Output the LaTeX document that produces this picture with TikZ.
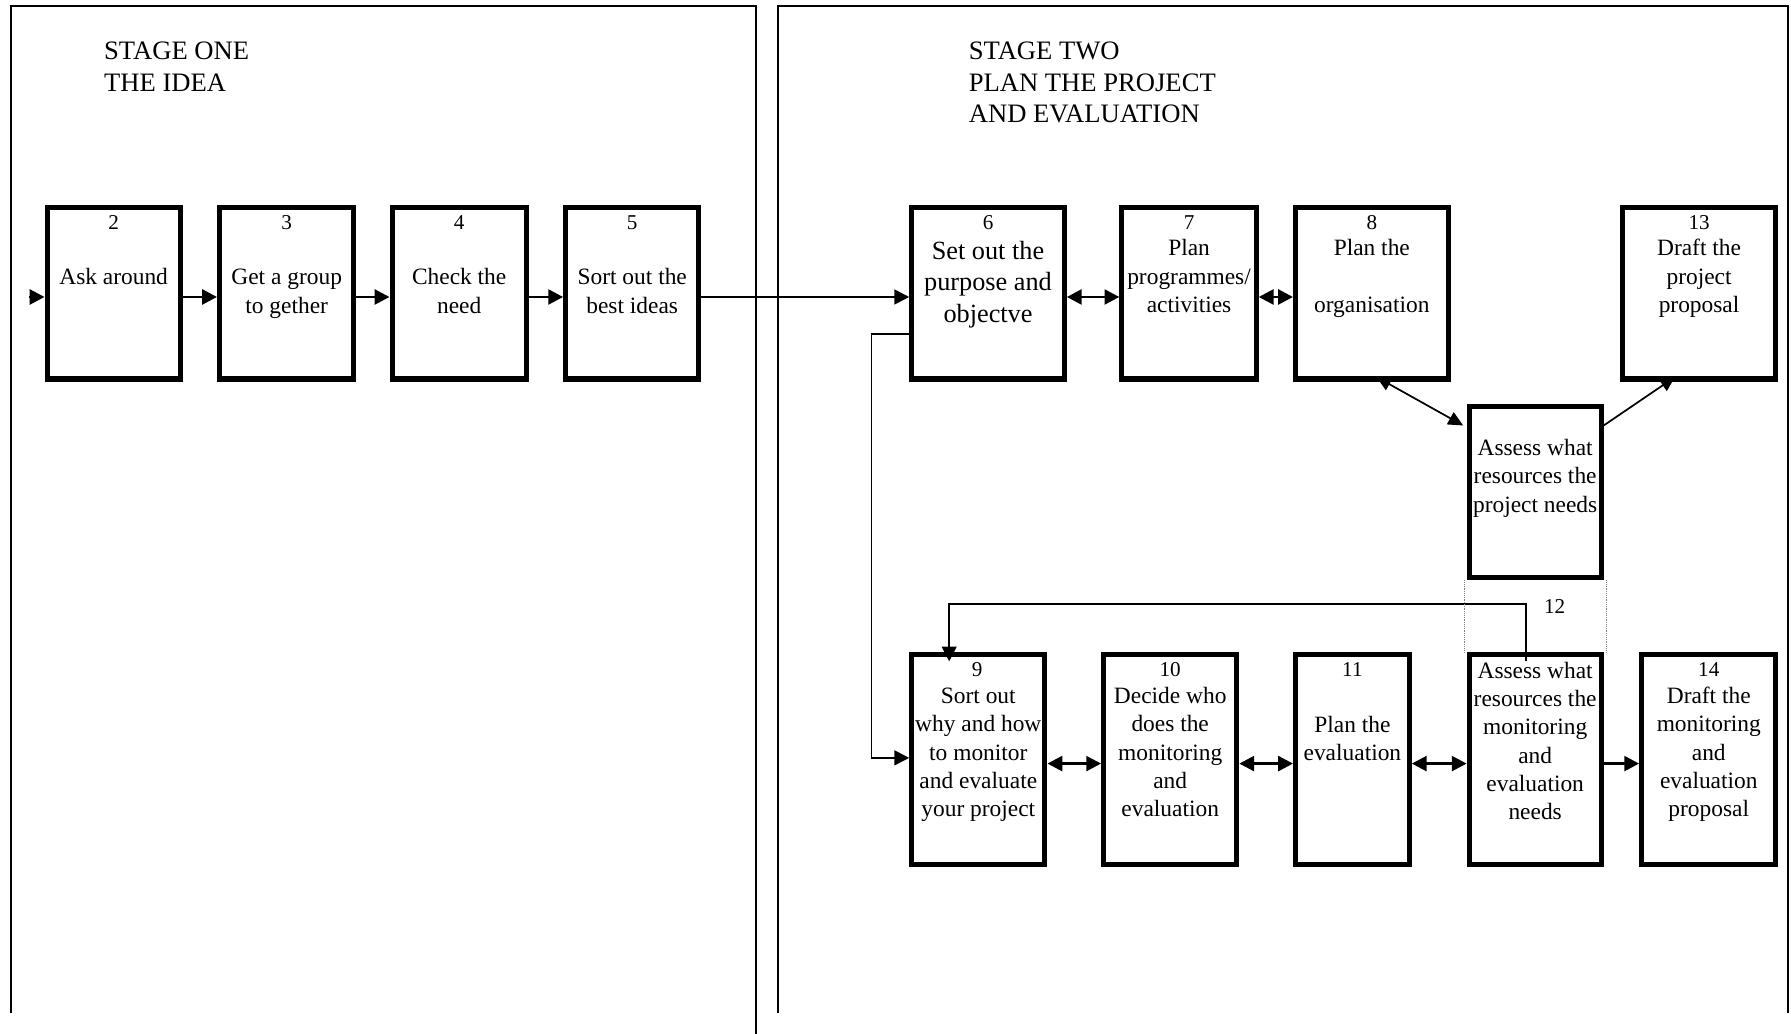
\documentclass[tikz,border=0pt]{standalone}
\usepackage{fontspec}
\setmainfont{Liberation Serif}
\usetikzlibrary{arrows.meta}
\tikzset{
  stepbox/.style={draw, line width=4.4pt, inner sep=0pt},
  panel/.style={line width=1.8pt},
  arr/.style={line width=2.5pt, -{Triangle[length=13pt,width=13pt]}},
  darr/.style={line width=2.5pt, {Triangle[length=13pt,width=13pt]}-{Triangle[length=13pt,width=13pt]}},
  thinarr/.style={line width=1.7pt, -{Triangle[length=13pt,width=13pt]}},
  diagarr/.style={line width=1.5pt, -{Triangle[length=13pt,width=12pt]}},
  diagdarr/.style={line width=1.5pt, {Triangle[length=13pt,width=12pt]}-{Triangle[length=13pt,width=12pt]}},
  numtxt/.style={anchor=base, inner sep=0pt, font=\fontsize{18.5}{20}\selectfont},
  boxtxt/.style={anchor=base, inner sep=0pt, font=\fontsize{20.5}{24.7}\selectfont},
  bigtxt/.style={anchor=base, inner sep=0pt, font=\fontsize{23}{27.5}\selectfont},
  titletxt/.style={anchor=base west, inner sep=0pt, font=\fontsize{23.3}{27.7}\selectfont},
  guide/.style={line width=0.6pt, gray, densely dotted}
}
\newcommand\bx[5]{\node[stepbox, minimum width={#3-#2-4.4}, minimum height={#5-#4-4.4}] (#1) at ({(#2+#3)/2},{(#4+#5)/2}) {};}
\newcommand\tl[1]{\begin{tabular}[t]{@{}c@{}}#1\end{tabular}}
\newcommand\tll[1]{\begin{tabular}[t]{@{}l@{}}#1\end{tabular}}
\begin{document}
\begin{tikzpicture}[x=1pt,y=-1pt]
\useasboundingbox (0,0) rectangle (1568,905);
% panels
\draw[panel] (10,887) -- (10,5) -- (662,5) -- (662,905);
\draw[panel] (681,887) -- (681,5) -- (1565,5) -- (1565,887);
% titles
\node[titletxt] (s1) at (91,52) {\tll{STAGE ONE\\THE IDEA}};
\node[titletxt] (s2) at (848,52) {\tll{STAGE TWO\\PLAN THE PROJECT\\AND EVALUATION}};
% boxes row 1
\bx{b2}{39}{160}{179.5}{334}
\bx{b3}{190}{312}{179.5}{334}
\bx{b4}{341}{463}{179.5}{334}
\bx{b5}{493}{614}{179.5}{334}
\bx{b6}{796}{934}{179.5}{334}
\bx{b7}{980}{1102}{179.5}{334}
\bx{b8}{1132}{1270}{179.5}{334}
\bx{b13}{1418}{1557}{179.5}{334}
\bx{bA}{1284}{1404}{354}{508}
% boxes row 2
\bx{b9}{796}{917}{571}{759}
\bx{b10}{964}{1085}{571}{759}
\bx{b11}{1132}{1236}{571}{759}
\bx{b12}{1284}{1404}{571}{759}
\bx{b14}{1435}{1557}{571}{759}
% numbers
\node[numtxt] (n2) at (99.5,200.5) {2};
\node[numtxt] (n3) at (251,200.5) {3};
\node[numtxt] (n4) at (402,200.5) {4};
\node[numtxt] (n5) at (553.5,200.5) {5};
\node[numtxt] (n6) at (865,200.5) {6};
\node[numtxt] (n7) at (1041,200.5) {7};
\node[numtxt] (n8) at (1201,200.5) {8};
\node[numtxt] (n13) at (1487.5,200.5) {13};
\node[numtxt] (n9) at (855.5,592.5) {9};
\node[numtxt] (n10) at (1024.5,592.5) {10};
\node[numtxt] (n11) at (1184,592.5) {11};
\node[numtxt] (n14) at (1496,592.5) {14};
\node[numtxt] (n12) at (1361,537.5) {12};
% texts
\node[boxtxt] (t2) at (99.5,249.5) {\tl{Ask around}};
\node[boxtxt] (t3) at (251,249.5) {\tl{Get a group\\to gether}};
\node[boxtxt] (t4) at (402,249.5) {\tl{Check the\\need}};
\node[boxtxt] (t5) at (553.5,249.5) {\tl{Sort out the\\best ideas}};
\node[bigtxt] (t6) at (865,227) {\tl{Set out the\\purpose and\\objectve}};
\node[boxtxt] (t7) at (1041,224) {\tl{Plan\\programmes/\\activities}};
\node[boxtxt] (t8) at (1201,224) {\tl{Plan the\\ \\organisation}};
\node[boxtxt] (t13) at (1487.5,224) {\tl{Draft the\\project\\proposal}};
\node[boxtxt] (tA) at (1344,399) {\tl{Assess what\\resources the\\project needs}};
\node[boxtxt] (t9) at (856.5,616) {\tl{Sort out\\why and how\\to monitor\\and evaluate\\your project}};
\node[boxtxt] (t10) at (1024.5,616) {\tl{Decide who\\does the\\monitoring\\and\\evaluation}};
\node[boxtxt] (t11) at (1184,641) {\tl{Plan the\\evaluation}};
\node[boxtxt] (t12) at (1344,594) {\tl{Assess what\\resources the\\monitoring\\and\\evaluation\\needs}};
\node[boxtxt] (t14) at (1496,616) {\tl{Draft the\\monitoring\\and\\evaluation\\proposal}};
% connectors row 1
\coordinate (in) at (25,260);
\draw[arr] (in) -- (in -| b2.west);
\draw[arr] (b2.east |- in) -- (b3.west |- in);
\draw[arr] (b3.east |- in) -- (b4.west |- in);
\draw[arr] (b4.east |- in) -- (b5.west |- in);
\draw[thinarr] (b5.east |- in) -- (b6.west |- in);
\draw[darr] (b6.east |- in) -- (b7.west |- in);
\draw[darr] (b7.east |- in) -- (b8.west |- in);
\draw[diagdarr] ([xshift=4pt,yshift=4pt]b8.south) -- ([shift={(-3pt,58.5pt)}]bA.west);
\draw[diagarr] ([yshift=58.5pt]bA.east) -- ([shift={(-21pt,4pt)}]b13.south);
% connector 6 -> 9
\draw[thinarr] ([yshift=-35.5pt]b6.west) -- ++(-33,0) |- ([yshift=1.5pt]b9.west);
% connector 12 -> 9
\draw[thinarr] ([shift={(-8pt,-8pt)}]b12.north) -- ++(0,-50) -| ([shift={(-25.5pt,-8pt)}]b9.north);
% guides
\draw[guide] ([xshift=-2pt]bA.south west) -- ([xshift=-2pt]b12.north west);
\draw[guide] ([xshift=2pt]bA.south east) -- ([xshift=2pt]b12.north east);
% row 2 connectors
\draw[darr] ([yshift=-3.5pt]b9.east) -- ([yshift=-3.5pt]b10.west);
\draw[darr] ([yshift=-3.5pt]b10.east) -- ([yshift=-3.5pt]b11.west);
\draw[darr] ([yshift=-3.5pt]b11.east) -- ([yshift=-3.5pt]b12.west);
\draw[arr] ([yshift=-3.5pt]b12.east) -- ([yshift=-3.5pt]b14.west);
\end{tikzpicture}
\end{document}
